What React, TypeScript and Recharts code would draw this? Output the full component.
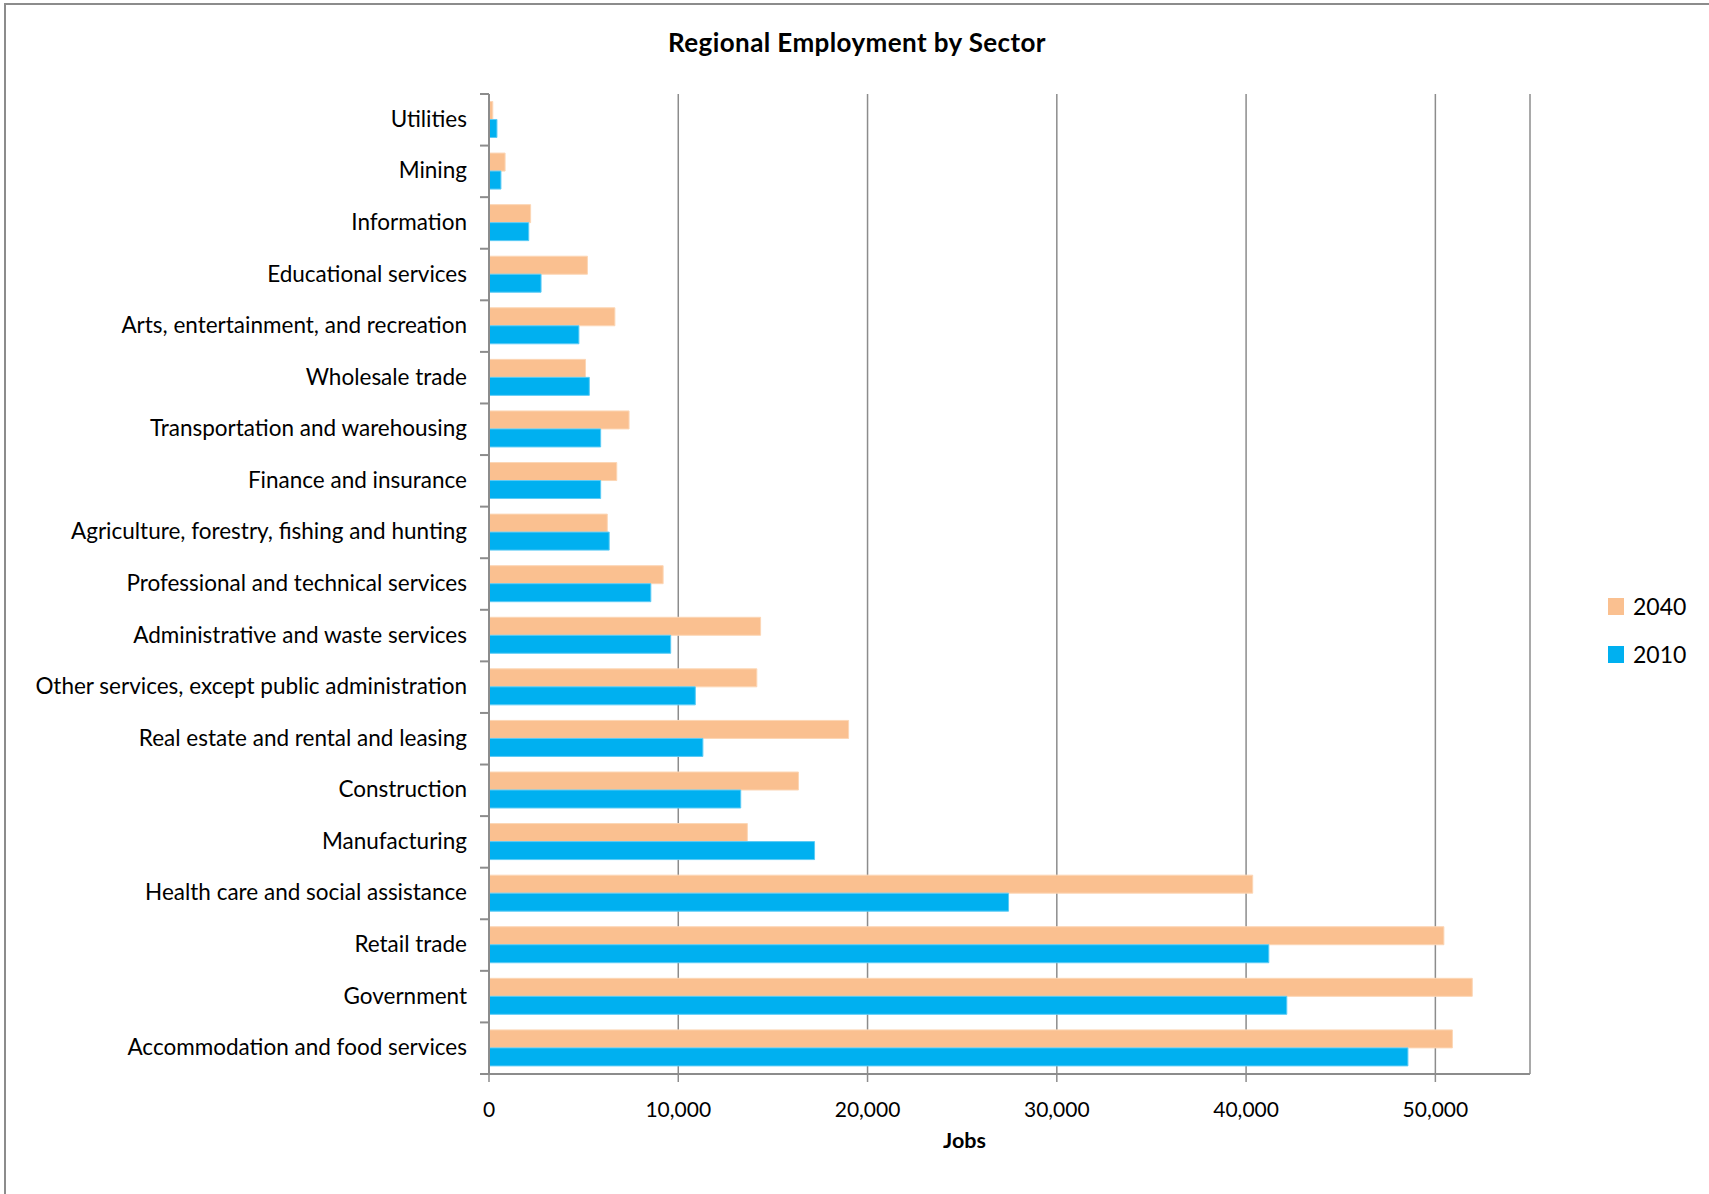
import React from 'react';
import { BarChart, Bar, XAxis, YAxis, CartesianGrid, Legend, Customized } from 'recharts';

const categories = [
  'Utilities',
  'Mining',
  'Information',
  'Educational services',
  'Arts, entertainment, and recreation',
  'Wholesale trade',
  'Transportation and warehousing',
  'Finance and insurance',
  'Agriculture, forestry, fishing and hunting',
  'Professional and technical services',
  'Administrative and waste services',
  'Other services, except public administration',
  'Real estate and rental and leasing',
  'Construction',
  'Manufacturing',
  'Health care and social assistance',
  'Retail trade',
  'Government',
  'Accommodation and food services',
];

const jobs2040 = [200, 850, 2200, 5200, 6650, 5100, 7400, 6750, 6250, 9200, 14350, 14150, 19000, 16350, 13650, 40350, 50450, 51950, 50900];
const jobs2010 = [420, 630, 2100, 2750, 4750, 5300, 5900, 5900, 6350, 8550, 9600, 10900, 11300, 13300, 17200, 27450, 41200, 42150, 48550];

const xTicks = [0, 10000, 20000, 30000, 40000, 50000];

const data = categories.map((c, i) => ({ sector: c, y2040: jobs2040[i], y2010: jobs2010[i] }));

const W = 1709;
const H = 1194;
const MARGIN = { top: 94, right: 179, bottom: 60, left: 0 };
const Y_W = 489;
const X_H = 60;
const PLOT_H = H - MARGIN.top - MARGIN.bottom - X_H;
const BAND = PLOT_H / categories.length;
const FONT = 'Lato, "Open Sans", sans-serif';
const GRID = '#8c8c8c';
const ORANGE = '#FAC090';
const BLUE = '#00B0F0';

const YTick = (props: any) => {
  const { x, y, payload, index } = props;
  const axisX = x + 22;
  const isLast = index === categories.length - 1;
  return (
    <g>
      <line x1={axisX - 9} x2={axisX} y1={y - BAND / 2} y2={y - BAND / 2} stroke={GRID} strokeWidth={2} />
      {isLast && (
        <line x1={axisX - 9} x2={axisX} y1={y + BAND / 2} y2={y + BAND / 2} stroke={GRID} strokeWidth={2} />
      )}
      <text x={x} y={y} dy={7} textAnchor="end" fontFamily={FONT} fontSize={22.5} fill="#000">
        {payload.value}
      </text>
    </g>
  );
};

const Title = () => (
  <text
    x={857}
    y={52}
    textAnchor="middle"
    fontFamily={FONT}
    fontWeight="bold"
    fontSize={26}
    letterSpacing={0.4}
    fill="#000"
  >
    Regional Employment by Sector
  </text>
);

const LegendContent = (props: any) => {
  const items = [
    { label: '2040', color: ORANGE },
    { label: '2010', color: BLUE },
  ];
  return (
    <div style={{ fontFamily: FONT }}>
      {items.map((it) => (
        <div key={it.label} style={{ display: 'flex', alignItems: 'center', height: 48 }}>
          <div style={{ width: 16, height: 17, background: it.color, marginRight: 9 }} />
          <span style={{ fontSize: 23, color: '#000', lineHeight: '23px' }}>{it.label}</span>
        </div>
      ))}
    </div>
  );
};

const JobsLabel = (props: any) => {
  const vb = props.viewBox || {};
  return (
    <text
      x={vb.x + vb.width / 2 - 45}
      y={vb.y + 74}
      textAnchor="middle"
      fontFamily={FONT}
      fontWeight="bold"
      fontSize={21.5}
      fill="#000"
    >
      Jobs
    </text>
  );
};

export default function App() {
  return (
    <div style={{ position: 'absolute', left: 0, top: 0, width: W, height: H, background: '#fff', overflow: 'hidden' }}>
      <div
        style={{
          position: 'absolute',
          left: 4,
          top: 3,
          width: W + 20,
          height: H + 20,
          borderTop: '2px solid #8c8c8c',
          borderLeft: '2px solid #8c8c8c',
          boxSizing: 'border-box',
        }}
      />
      <BarChart
        width={W}
        height={H}
        data={data}
        layout="vertical"
        margin={MARGIN}
        barCategoryGap="14.5%"
        barGap={0}
        style={{ position: 'absolute', left: 0, top: 0 }}
      >
        <CartesianGrid horizontal={false} stroke={GRID} strokeWidth={1.5} />
        <XAxis
          type="number"
          domain={[0, 55000]}
          ticks={xTicks}
          height={X_H}
          tickFormatter={(v: number) => v.toLocaleString('en-US')}
          axisLine={{ stroke: GRID, strokeWidth: 2 }}
          tickLine={{ stroke: GRID, strokeWidth: 1.5 }}
          tickSize={8}
          tickMargin={20}
          tick={{ fontFamily: FONT, fontSize: 21, fill: '#000' }}
          label={<JobsLabel />}
          allowDataOverflow
        />
        <YAxis
          type="category"
          dataKey="sector"
          width={Y_W}
          interval={0}
          axisLine={{ stroke: GRID, strokeWidth: 2 }}
          tickLine={false}
          tickSize={9}
          tickMargin={13}
          tick={<YTick />}
        />
        <Legend
          layout="vertical"
          align="center"
          verticalAlign="middle"
          content={<LegendContent />}
          wrapperStyle={{ position: 'absolute', left: 1608, top: 582, width: 100 }}
        />
        <Bar dataKey="y2040" name="2040" fill={ORANGE} stroke="#fcd6b5" strokeWidth={1} isAnimationActive={false} />
        <Bar dataKey="y2010" name="2010" fill={BLUE} stroke="#5ccbf5" strokeWidth={1} isAnimationActive={false} />
        <Customized component={Title} />
      </BarChart>
    </div>
  );
}
